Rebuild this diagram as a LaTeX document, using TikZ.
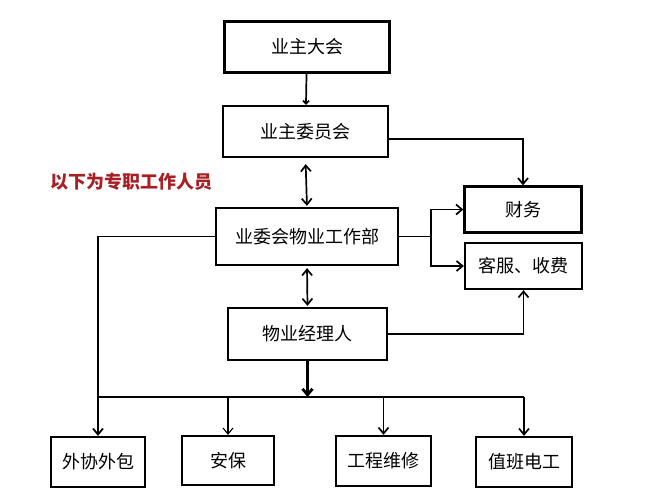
\documentclass[tikz,border=0pt]{standalone}
\usepackage{fontspec}
\newfontfamily\cjk{Noto Sans CJK SC}
\usetikzlibrary{positioning,calc,arrows.meta}
\definecolor{noteRed}{RGB}{168,32,36}

\begin{document}
\begin{tikzpicture}
  [x=1pt,y=-1pt,
   line width=1.7pt,
   >={Straight Barb[length=6pt,width=10pt]},
   orgNode/.style={draw,line width=2.3pt,inner sep=0pt,font=\cjk\fontsize{18}{21}\selectfont},
   bigN/.style={orgNode,minimum width=165pt,minimum height=51pt},
   sideN/.style={orgNode,minimum width=117pt,minimum height=46pt},
   lowN/.style={orgNode,minimum width=95pt,minimum height=50pt},
   noteN/.style={text=noteRed,font=\cjk\bfseries\fontsize{18}{21}\selectfont},
  ]
 \useasboundingbox (0,0) rectangle (667,495);

 % upper part
 \node[bigN] (dahui) at (307,47) {业主大会};
 \node[bigN] (weiyuan) at (305.5,131.5) {业主委员会};
 \node[noteN] (note) at (131,182) {以下为专职工作人员};
 \node[orgNode,minimum width=182pt,minimum height=57pt] (gongzuobu) at (307,236.5) {业委会物业工作部};
 \node[sideN] (caiwu) at (523,209.5) {财务};
 \node[sideN] (kefu) at (523.5,266) {客服、收费};
 \node[orgNode,minimum width=159pt,minimum height=52pt] (jingli) at (307.5,334) {物业经理人};

 % lower row
 \node[lowN,minimum width=94pt] (waixie) at (98,462) {外协外包};
 \node[lowN,minimum width=92pt,minimum height=49pt] (anbao) at (228,460.5) {安保};
 \node[lowN] (gongcheng) at (383.5,461) {工程维修};
 \node[lowN,minimum width=96pt] (zhiban) at (524,462) {值班电工};

 \draw[->,>={Straight Barb[length=3pt,width=6pt]}] (dahui) -- (weiyuan);
 \draw[->] ($(weiyuan.east)+(0,7.5)$) -| (caiwu.north);
 \draw[<->,shorten <=6pt,shorten >=1pt] (weiyuan.south) -- (gongzuobu.north);

 \draw (gongzuobu.east) -- ++(32,0) coordinate (split);
 \draw[->] (split) |- (caiwu.west);
 \draw[->] (split) |- (kefu.west);
 \draw[->] (gongzuobu.west) -| (waixie.north);
 \draw[<->,shorten <=2pt,shorten >=1pt] (gongzuobu.south) -- (jingli.north);
 \draw[->] (jingli.east) -| (kefu.south);

 \coordinate (bus) at (307.5,397);
 \draw[->,line width=2.8pt] (jingli.south) -- (bus);
 \draw (waixie.north |- bus) -- (zhiban.north |- bus);
 \draw[->,line width=1.1pt] (anbao.north |- bus) -- (anbao.north);
 \draw[->] (gongcheng.north |- bus) -- (gongcheng.north);
 \draw[->] (zhiban.north |- bus) -- (zhiban.north);
\end{tikzpicture}
\end{document}
